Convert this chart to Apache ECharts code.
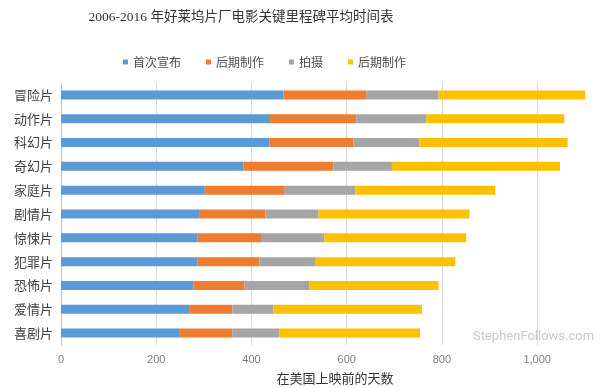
<!DOCTYPE html>
<html>
<head>
<meta charset="utf-8">
<script src="https://cdn.jsdelivr.net/npm/echarts@6/dist/echarts.min.js"></script>
<style>html,body{margin:0;padding:0;background:#fff}#c{width:600px;height:388px}</style>
</head>
<body>
<div id="c"></div>
<script>
const categories = ['冒险片','动作片','科幻片','奇幻片','家庭片','剧情片','惊悚片','犯罪片','恐怖片','爱情片','喜剧片'];
const seriesNames = ['首次宣布','后期制作','拍摄','后期制作 '];
const announce = [467, 439, 438, 383, 302, 290, 287, 287, 278, 269, 248];
const preProd  = [175, 181, 176, 189, 168, 139, 133, 130, 107, 91, 112];
const shooting = [151, 147, 139, 123, 148, 112, 133, 118, 137, 86, 99];
const postProd = [308, 290, 311, 353, 294, 317, 298, 293, 271, 312, 295];
const colors = ['#5B9BD5','#ED7D31','#A5A5A5','#FFC000'];
const values = [announce, preProd, shooting, postProd];

const chart = echarts.init(document.getElementById('c'));
chart.setOption({
  animation: false,
  color: colors,
  title: [{
    text: '2006-2016 年好莱坞片厂电影关键里程碑平均时间表',
    left: 236, textAlign: 'center', top: 6,
    textStyle: {fontSize: 13.5, fontWeight: 'normal', color: '#333', fontFamily: "'Liberation Serif','Noto Sans CJK SC'"}
  }, {
    text: '在美国上映前的天数',
    left: 330, textAlign: 'center', top: 367,
    textStyle: {fontSize: 13, fontWeight: 'normal', color: '#333', fontFamily: "'Noto Sans CJK SC'"}
  }],
  legend: {
    left: 118, top: 51,
    icon: 'rect', itemWidth: 5, itemHeight: 5, itemGap: 25,
    formatter: n => n.trim(),
    textStyle: {fontSize: 12, color: '#4d4d4d', fontFamily: "'Noto Sans CJK SC'"},
    data: seriesNames
  },
  grid: {left: 61, right: 0, top: 83, bottom: 43},
  xAxis: {
    type: 'value', min: 0, max: 1132, interval: 200,
    axisLine: {show: false}, axisTick: {show: false},
    splitLine: {showMaxLine: false, lineStyle: {color: '#d9d9d9'}},
    axisLabel: {fontSize: 11, color: '#7f7f7f', margin: 9, showMaxLabel: false,
      formatter: v => v.toLocaleString('en-US')}
  },
  yAxis: {
    type: 'category', data: categories, inverse: true,
    axisLine: {lineStyle: {color: '#bfbfbf'}}, axisTick: {show: false},
    axisLabel: {fontSize: 13, color: '#404040', margin: 8, fontFamily: "'Noto Sans CJK SC'"}
  },
  graphic: [{
    type: 'text', left: 473, top: 330,
    style: {text: 'StephenFollows.com', fill: '#c8c8c8', font: '13px Roboto'}
  }],
  series: values.map((d, i) => ({
    name: seriesNames[i], type: 'bar', stack: 'total', barWidth: 9,
    data: d, itemStyle: {color: colors[i]}
  }))
});
</script>
</body>
</html>
